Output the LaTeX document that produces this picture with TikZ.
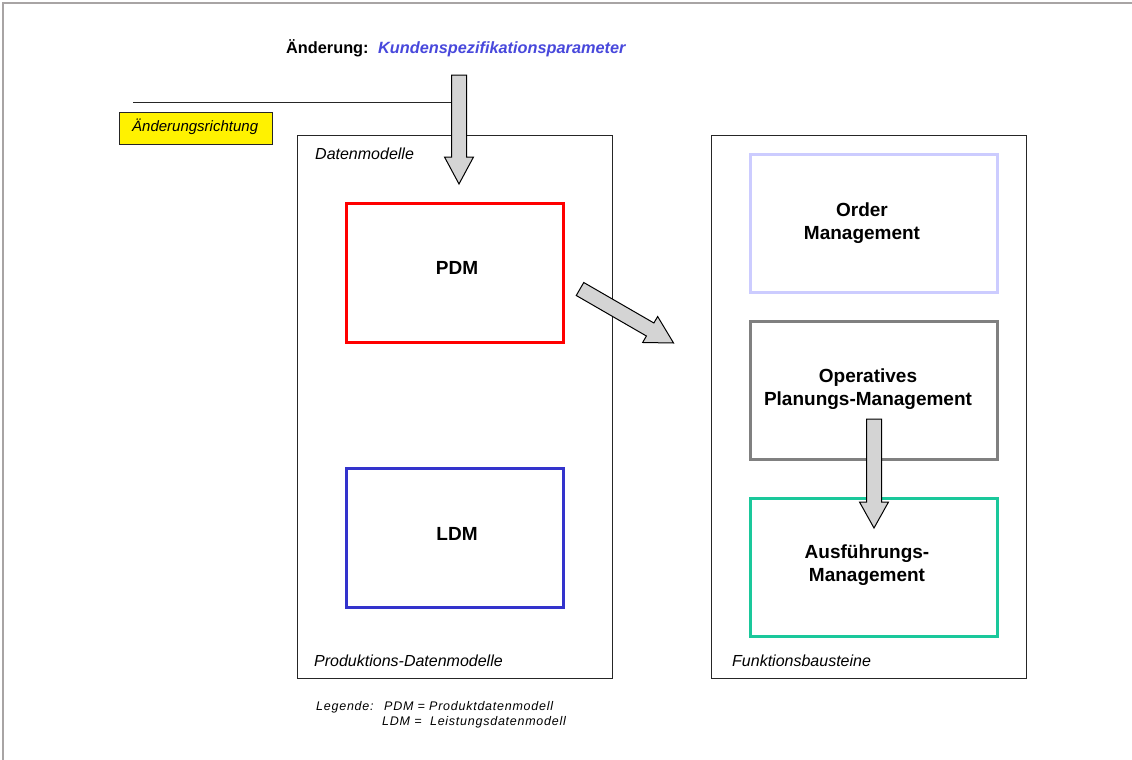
\documentclass[tikz,border=0pt]{standalone}
\usepackage{fontspec}
\setmainfont{Liberation Sans}
\usetikzlibrary{calc}

\definecolor{frameline}{RGB}{168,164,164}
\definecolor{pdmred}{RGB}{255,0,0}
\definecolor{ldmblue}{RGB}{51,51,204}
\definecolor{orderlav}{RGB}{204,204,255}
\definecolor{opgray}{RGB}{128,128,128}
\definecolor{exteal}{RGB}{26,200,155}
\definecolor{paramblue}{RGB}{72,72,220}
\definecolor{arrowfill}{RGB}{212,212,212}

\tikzset{
  outerbox/.style={draw=black!85, line width=1pt, inner sep=0pt},
  modelbox/.style={line width=3pt, inner sep=0pt, minimum width=217pt, minimum height=139pt},
  funcbox/.style={line width=3pt, inner sep=0pt, minimum width=247pt, minimum height=138pt},
  boxlabel/.style={align=center, font=\fontsize{19}{22.5}\selectfont\bfseries},
  caption/.style={anchor=west, inner sep=0pt, font=\fontsize{16}{19}\selectfont\itshape},
  legendtext/.style={anchor=base west, inner sep=0pt,
    font=\fontsize{12.5}{15}\selectfont\itshape\addfontfeature{LetterSpace=6}},
  barrow/.style={draw=black, line width=1pt, fill=arrowfill, line join=miter},
}

% block arrow: tail coordinate, angle, length, shaft half width, head half width, head length
\newcommand\blockarrow[6]{%
  \begin{scope}[shift={(#1)}, rotate=#2]
    \draw[barrow] (0,-#4) -- ({#3-#6},-#4) -- ({#3-#6},-#5) -- (#3,0)
      -- ({#3-#6},#5) -- ({#3-#6},#4) -- (0,#4) -- cycle;
  \end{scope}}

\begin{document}
\begin{tikzpicture}[x=1pt, y=-1pt]
  \useasboundingbox (0,0) rectangle (1132,760);
  \fill[white] (0,0) rectangle (1132,760);

  % page frame (top and left edge)
  \draw[frameline, line width=2pt] (3,760) -- (3,3) -- (1132,3);

  % heading
  \node[anchor=base west, inner sep=0pt, font=\fontsize{16.3}{19}\selectfont\bfseries] (chg) at (286,54) {Änderung:};
  \node[anchor=base west, inner sep=0pt, font=\fontsize{16.3}{19}\selectfont\bfseries\itshape, text=paramblue] (param) at (378,54) {Kundenspezifikationsparameter};

  % direction marker
  \coordinate (dirL) at (133,102.5);
  \coordinate (dirR) at (452,102.5);
  \draw[line width=1pt, black!85] (dirL) -- (dirR);
  \node[draw=black!85, line width=1pt, fill=yellow, minimum width=153pt, minimum height=32pt, inner sep=0pt] (dirbox) at (195.5,128.5) {};
  \node[anchor=west, inner sep=0pt, font=\fontsize{15}{17}\selectfont\itshape] (dirtext) at (132,127) {Änderungsrichtung};

  % production data models
  \node[outerbox, minimum width=315pt, minimum height=543pt] (datbox) at (454.5,406.5) {};
  \node[caption] (dattop) at (315,154) {Datenmodelle};
  \node[caption] (datbot) at (314,661) {Produktions-Datenmodelle};
  \node[modelbox, draw=pdmred] (pdm) at (454.5,272.5) {};
  \node[boxlabel] (pdmtext) at (457,268) {PDM};
  \node[modelbox, draw=ldmblue] (ldm) at (454.5,537.5) {};
  \node[boxlabel] (ldmtext) at (457,534) {LDM};

  % function modules
  \node[outerbox, minimum width=315pt, minimum height=543pt] (funbox) at (868.5,406.5) {};
  \node[caption] (funbot) at (732,661) {Funktionsbausteine};
  \node[funcbox, draw=orderlav] (order) at (873.5,223.5) {};
  \node[boxlabel] (ordertext) at (862,223) {Order\\Management};
  \node[funcbox, draw=opgray] (oper) at (873.5,390.5) {};
  \node[boxlabel] (opertext) at (868,389) {Operatives\\Planungs-Management};
  \node[funcbox, draw=exteal] (exec) at (873.5,567.5) {};
  \node[boxlabel] (exectext) at (867,565) {Ausführungs-\\Management};

  % legend
  \node[legendtext] (leg) at (316,710) {Legende:};
  \node[legendtext] (legp) at (384,710) {PDM = Produktdatenmodell};
  \node[legendtext] (legl) at (382,725) {LDM =\ \ Leistungsdatenmodell};

  % block arrows
  \coordinate (arrA) at (459,75);
  \coordinate (arrB) at (580,289);
  \coordinate (arrC) at (874,419);
  \blockarrow{arrA}{-90}{109}{7.5}{14.5}{27}
  \blockarrow{arrB}{-30}{108}{7.5}{15}{27}
  \blockarrow{arrC}{-90}{109}{7.5}{14.5}{26}
\end{tikzpicture}
\end{document}
